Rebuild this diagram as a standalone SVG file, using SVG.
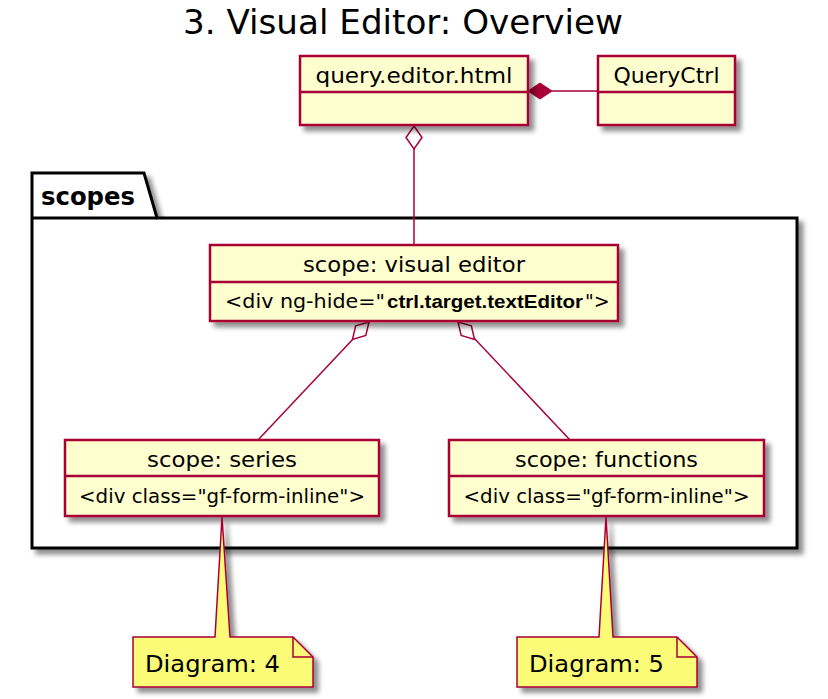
<svg xmlns="http://www.w3.org/2000/svg" width="828" height="699" viewBox="0 0 828 699">
<defs>
<filter id="sh" x="-10%" y="-10%" width="130%" height="140%">
<feGaussianBlur in="SourceAlpha" stdDeviation="2.5"/>
<feOffset dx="5" dy="5" result="b"/>
<feComponentTransfer><feFuncA type="linear" slope="0.45"/></feComponentTransfer>
<feMerge><feMergeNode/><feMergeNode in="SourceGraphic"/></feMerge>
</filter>
<style>
text{font-family:"DejaVu Sans","Liberation Sans",sans-serif;fill:#000}
.cls{fill:#FEFECE;stroke:#A80036;stroke-width:2.5}
.div{stroke:#A80036;stroke-width:2.5}
.note{fill:#FBFB77;stroke:#A80036;stroke-width:1.5}
.ln{stroke:#A80036;stroke-width:1.5;fill:none}
.t{font-size:22px;text-anchor:middle}
.s{font-size:19px;text-anchor:middle}
.sl{font-size:19px}
</style>
</defs>
<rect width="828" height="699" fill="#fff"/>
<text x="403" y="34" style="font-size:33px;text-anchor:middle" textLength="440" lengthAdjust="spacingAndGlyphs">3. Visual Editor: Overview</text>

<g id="pkg-scopes">
<path d="M32,218 L32,173 L144,173 L157,218 L797,218 L797,548 L32,548 Z" fill="#fff" stroke="#000" stroke-width="3" filter="url(#sh)"/>
<line x1="32" y1="218" x2="157" y2="218" stroke="#000" stroke-width="3"/>
<text x="41" y="205" style="font-size:24px;font-weight:bold" textLength="94" lengthAdjust="spacingAndGlyphs">scopes</text>
</g>

<g id="connectors">
<line class="ln" x1="552" y1="91" x2="598" y2="91"/>
<polygon points="528,91 540,83 552,91 540,99" fill="#A80036" stroke="#A80036" stroke-width="1"/>
<line class="ln" x1="414" y1="149" x2="414" y2="245"/>
<polygon points="414,126 422,137.5 414,149 406,137.5" fill="#fff" stroke="#A80036" stroke-width="1.5"/>
<line class="ln" x1="258" y1="440" x2="354" y2="338"/>
<polygon points="0,0 12,-7 24,0 12,7" fill="#fff" stroke="#A80036" stroke-width="1.5" transform="translate(369,322) rotate(133.5)"/>
<line class="ln" x1="570" y1="440" x2="474" y2="338"/>
<polygon points="0,0 12,-7 24,0 12,7" fill="#fff" stroke="#A80036" stroke-width="1.5" transform="translate(458,322) rotate(46.5)"/>
</g>

<g id="query-editor-html">
<rect class="cls" x="300" y="56" width="228" height="69" filter="url(#sh)"/>
<line class="div" x1="300" y1="92" x2="528" y2="92"/>
<text class="t" x="414" y="83" textLength="197" lengthAdjust="spacingAndGlyphs">query.editor.html</text>
</g>

<g id="QueryCtrl">
<rect class="cls" x="598" y="56" width="137" height="69" filter="url(#sh)"/>
<line class="div" x1="598" y1="92" x2="735" y2="92"/>
<text class="t" x="666.5" y="83" textLength="106" lengthAdjust="spacingAndGlyphs">QueryCtrl</text>
</g>

<g id="scope-visual-editor">
<rect class="cls" x="210" y="245" width="408" height="76" filter="url(#sh)"/>
<line class="div" x1="210" y1="282" x2="618" y2="282"/>
<text class="t" x="414" y="272" textLength="222" lengthAdjust="spacingAndGlyphs">scope: visual editor</text>
<text class="sl" x="225" y="308" textLength="160" lengthAdjust="spacingAndGlyphs">&lt;div ng-hide="</text>
<text x="387" y="308" font-weight="bold" style="font-size:19px;font-family:'Liberation Sans',sans-serif" textLength="196" lengthAdjust="spacingAndGlyphs">ctrl.target.textEditor</text>
<text x="585" y="308" style="font-size:19px">"&gt;</text>
</g>

<g id="scope-series">
<rect class="cls" x="65" y="440" width="314" height="76" filter="url(#sh)"/>
<line class="div" x1="65" y1="476" x2="379" y2="476"/>
<text class="t" x="222" y="467" textLength="150" lengthAdjust="spacingAndGlyphs">scope: series</text>
<text class="s" x="222" y="503" textLength="286" lengthAdjust="spacingAndGlyphs">&lt;div class="gf-form-inline"&gt;</text>
</g>

<g id="scope-functions">
<rect class="cls" x="449" y="440" width="315" height="76" filter="url(#sh)"/>
<line class="div" x1="449" y1="476" x2="764" y2="476"/>
<text class="t" x="606.5" y="467" textLength="183" lengthAdjust="spacingAndGlyphs">scope: functions</text>
<text class="s" x="606.5" y="503" textLength="286" lengthAdjust="spacingAndGlyphs">&lt;div class="gf-form-inline"&gt;</text>
</g>

<g id="note-4">
<path class="note" d="M133,637 L215,637 L222,517 L230,637 L293,637 L313,657 L313,687 L133,687 Z" filter="url(#sh)"/>
<path class="ln" d="M293,637 L293,657 L313,657"/>
<text x="145" y="672" style="font-size:23px" textLength="135" lengthAdjust="spacingAndGlyphs">Diagram: 4</text>
</g>

<g id="note-5">
<path class="note" d="M517,637 L599,637 L606,517 L613,637 L677,637 L697,657 L697,687 L517,687 Z" filter="url(#sh)"/>
<path class="ln" d="M677,637 L677,657 L697,657"/>
<text x="529" y="672" style="font-size:23px" textLength="135" lengthAdjust="spacingAndGlyphs">Diagram: 5</text>
</g>
</svg>
